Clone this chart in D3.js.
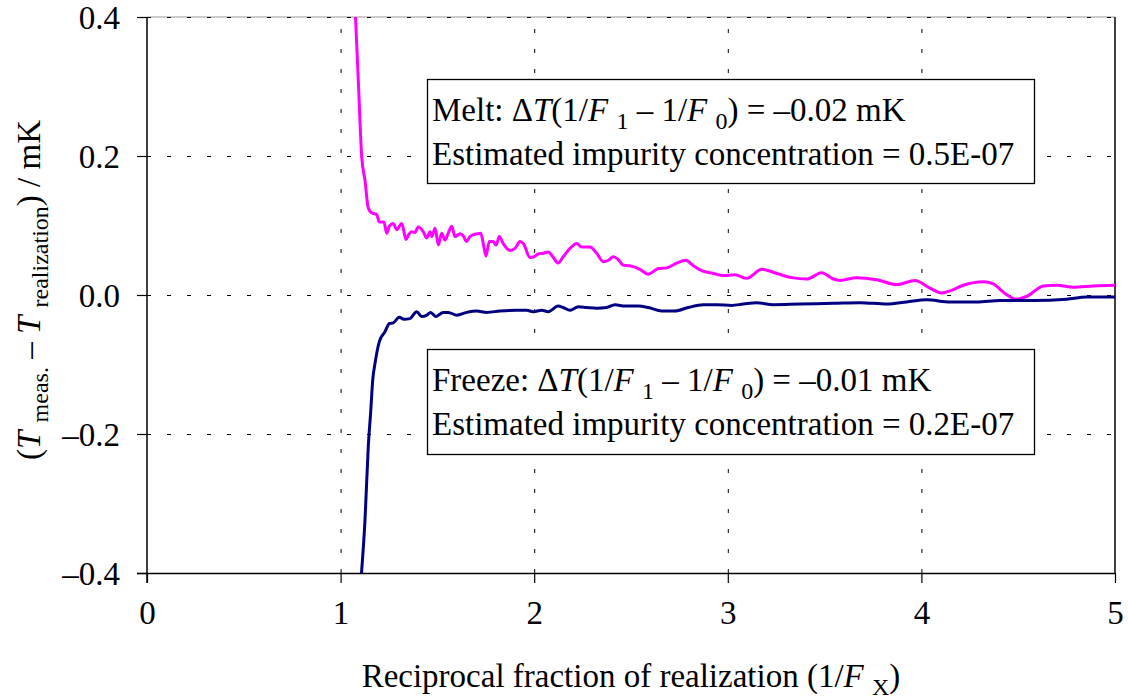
<!DOCTYPE html>
<html>
<head>
<meta charset="utf-8">
<script src="https://cdn.jsdelivr.net/npm/d3@7"></script>
<style>
  html, body { margin: 0; padding: 0; background: #fff; }
  svg { display: block; font-family: "Liberation Serif", "Times New Roman", serif; }
</style>
</head>
<body>
<svg id="chart" width="1128" height="699"></svg>
<script>
// ---- data ----
const xTicks = [0, 1, 2, 3, 4, 5];
const yTicks = [-0.4, -0.2, 0.0, 0.2, 0.4];
const yTickLabels = ["\u20130.4", "\u20130.2", "0.0", "0.2", "0.4"];

const meltX = [1.077, 1.092, 1.109, 1.126, 1.143, 1.161, 1.186, 1.200, 1.224, 1.238, 1.252, 1.272, 1.290, 1.316, 1.338, 1.350, 1.367, 1.384, 1.401, 1.427, 1.445, 1.462, 1.471, 1.488, 1.505, 1.522, 1.539, 1.556, 1.574, 1.591, 1.617, 1.634, 1.651, 1.668, 1.703, 1.724, 1.737, 1.751, 1.768, 1.789, 1.803, 1.820, 1.840, 1.875, 1.901, 1.927, 1.944, 1.978, 1.999, 2.021, 2.047, 2.073, 2.096, 2.124, 2.150, 2.185, 2.220, 2.245, 2.271, 2.288, 2.323, 2.357, 2.383, 2.409, 2.434, 2.460, 2.495, 2.546, 2.589, 2.641, 2.684, 2.736, 2.784, 2.822, 2.865, 2.925, 2.977, 3.037, 3.098, 3.175, 3.253, 3.330, 3.408, 3.485, 3.545, 3.580, 3.666, 3.769, 3.872, 3.967, 4.044, 4.105, 4.148, 4.216, 4.320, 4.371, 4.432, 4.492, 4.544, 4.630, 4.699, 4.785, 4.888, 5.000];
const meltY = [0.400, 0.305, 0.199, 0.165, 0.125, 0.118, 0.116, 0.105, 0.105, 0.089, 0.099, 0.103, 0.094, 0.103, 0.080, 0.086, 0.091, 0.090, 0.098, 0.091, 0.082, 0.091, 0.084, 0.096, 0.072, 0.089, 0.079, 0.089, 0.099, 0.084, 0.088, 0.085, 0.077, 0.084, 0.088, 0.089, 0.074, 0.056, 0.077, 0.077, 0.072, 0.084, 0.074, 0.064, 0.067, 0.077, 0.074, 0.054, 0.055, 0.059, 0.060, 0.062, 0.055, 0.046, 0.055, 0.067, 0.074, 0.069, 0.069, 0.069, 0.060, 0.048, 0.050, 0.055, 0.051, 0.043, 0.042, 0.037, 0.030, 0.038, 0.039, 0.046, 0.050, 0.042, 0.035, 0.031, 0.028, 0.029, 0.024, 0.037, 0.031, 0.025, 0.023, 0.032, 0.023, 0.021, 0.025, 0.022, 0.015, 0.021, 0.010, 0.003, 0.006, 0.014, 0.019, 0.016, 0.002, -0.006, -0.002, 0.013, 0.014, 0.011, 0.013, 0.014];

const freezeX = [1.108, 1.126, 1.143, 1.155, 1.166, 1.178, 1.200, 1.229, 1.252, 1.272, 1.303, 1.327, 1.358, 1.393, 1.419, 1.445, 1.465, 1.493, 1.530, 1.556, 1.600, 1.651, 1.703, 1.755, 1.823, 1.910, 1.961, 1.995, 2.039, 2.073, 2.124, 2.150, 2.185, 2.228, 2.271, 2.323, 2.374, 2.417, 2.469, 2.538, 2.589, 2.659, 2.727, 2.796, 2.873, 2.943, 3.020, 3.080, 3.149, 3.235, 3.373, 3.545, 3.683, 3.821, 3.924, 4.027, 4.148, 4.286, 4.406, 4.578, 4.750, 4.854, 5.000];
const freezeY = [-0.400, -0.324, -0.218, -0.170, -0.122, -0.098, -0.067, -0.053, -0.041, -0.040, -0.032, -0.035, -0.034, -0.024, -0.031, -0.029, -0.025, -0.031, -0.025, -0.025, -0.029, -0.025, -0.023, -0.025, -0.023, -0.022, -0.022, -0.024, -0.022, -0.024, -0.016, -0.018, -0.022, -0.017, -0.018, -0.019, -0.018, -0.014, -0.016, -0.016, -0.018, -0.023, -0.023, -0.018, -0.014, -0.014, -0.015, -0.013, -0.011, -0.014, -0.013, -0.012, -0.011, -0.013, -0.010, -0.007, -0.010, -0.010, -0.008, -0.008, -0.006, -0.003, -0.003];

const meltColor = "#ff00ff";
const freezeColor = "#000080";

// ---- layout ----
const L = 147, R = 1115, T = 17, B = 573;
const FS = 33, SUB = 24;

const svg = d3.select("#chart");
const x = d3.scaleLinear().domain([0, 5]).range([L, R]);
const y = d3.scaleLinear().domain([-0.4, 0.4]).range([B, T]);

// plot-area top border (gray)
svg.append("line").attr("x1", L).attr("x2", R).attr("y1", T).attr("y2", T)
  .attr("stroke", "#9a9a9a").attr("stroke-width", 1.2);

// gridlines
const grid = svg.append("g").attr("stroke", "#000").attr("stroke-width", 1).attr("stroke-dasharray", "4,16");
grid.selectAll(".gx").data(xTicks.filter(d => d > 0 && d < 5)).join("line")
  .attr("x1", d => x(d) + 0.5).attr("x2", d => x(d) + 0.5).attr("y1", B).attr("y2", T);
grid.selectAll(".gy").data(yTicks.filter(d => d > -0.4)).join("line")
  .attr("x1", L).attr("x2", R).attr("y1", d => Math.round(y(d)) + 0.5).attr("y2", d => Math.round(y(d)) + 0.5);

// right border
svg.append("line").attr("x1", R).attr("x2", R).attr("y1", T).attr("y2", B)
  .attr("stroke", "#000").attr("stroke-width", 1.5);

// axes
const xAxis = d3.axisBottom(x).tickValues(xTicks).tickSize(10).tickPadding(18).tickFormat(d3.format("d"));
const gx = svg.append("g").attr("transform", `translate(0,${B})`).call(xAxis);
const yAxis = d3.axisLeft(y).tickValues(yTicks).tickSize(10).tickPadding(17)
  .tickFormat((d, i) => yTickLabels[i]);
const gy = svg.append("g").attr("transform", `translate(${L},0)`).call(yAxis);
[gx, gy].forEach(g => {
  g.select(".domain").attr("stroke", "#000").attr("stroke-width", 1.5);
  g.selectAll(".tick line").attr("stroke", "#000").attr("stroke-width", 1.2);
  g.selectAll(".tick text").attr("fill", "#000")
    .style("font-family", '"Liberation Serif", serif').style("font-size", FS + "px");
});
gx.select(".domain").attr("d", `M${L - 10},0.5H${R}`);
gy.select(".domain").attr("d", `M0,${T}V${B + 10}`);
gy.selectAll(".tick text").attr("dy", "0.34em");

// clip
svg.append("clipPath").attr("id", "clip").append("rect")
  .attr("x", L).attr("y", T).attr("width", R - L).attr("height", B - T);

const line = d3.line().x(d => x(d[0])).y(d => y(d[1])).curve(d3.curveMonotoneX);
const plot = svg.append("g").attr("clip-path", "url(#clip)");
plot.append("path").datum(meltX.map((v, i) => [v, meltY[i]]))
  .attr("d", line).attr("fill", "none").attr("stroke", meltColor).attr("stroke-width", 3).attr("stroke-linejoin", "round");
plot.append("path").datum(freezeX.map((v, i) => [v, freezeY[i]]))
  .attr("d", line).attr("fill", "none").attr("stroke", freezeColor).attr("stroke-width", 3).attr("stroke-linejoin", "round");

// helper for rich text
function rich(textSel, parts) {
  let shift = 0;
  parts.forEach(p => {
    const ts = textSel.append("tspan").text(p.t);
    if (p.i) ts.attr("font-style", "italic");
    const target = p.s ? 8 : 0;
    if (target !== shift) { ts.attr("dy", target - shift); shift = target; }
    if (p.s) ts.attr("font-size", SUB);
  });
}

// annotation boxes
function annBox(x0, y0, w, h, line1Prefix, value, conc) {
  svg.append("rect").attr("x", x0 + 0.5).attr("y", y0 + 0.5).attr("width", w).attr("height", h)
    .attr("fill", "#fff").attr("stroke", "#000").attr("stroke-width", 1.3);
  const t1 = svg.append("text").attr("x", x0 + 5).attr("y", y0 + 42).attr("font-size", FS);
  rich(t1, [
    { t: line1Prefix + "\u0394" }, { t: "T", i: true }, { t: "(1/" }, { t: "F", i: true },
    { t: " " }, { t: "1", s: true }, { t: " \u2013 1/" }, { t: "F", i: true }, { t: " " },
    { t: "0", s: true }, { t: ") = " + value + " mK" }
  ]);
  svg.append("text").attr("x", x0 + 5).attr("y", y0 + 86).attr("font-size", FS)
    .text("Estimated impurity concentration = " + conc);
}
annBox(427, 79, 607, 104, "Melt: ", "\u20130.02", "0.5E-07");
annBox(427, 349, 607, 105, "Freeze: ", "\u20130.01", "0.2E-07");

// axis titles
const xt = svg.append("text").attr("x", (L + R) / 2).attr("y", 687).attr("text-anchor", "middle").attr("font-size", FS);
rich(xt, [{ t: "Reciprocal fraction of realization (1/" }, { t: "F", i: true }, { t: " " }, { t: "X", s: true }, { t: ")" }]);

const yt = svg.append("text").attr("transform", "translate(40,290) rotate(-90)").attr("text-anchor", "middle").attr("font-size", FS);
rich(yt, [{ t: "(" }, { t: "T", i: true }, { t: " " }, { t: "meas.", s: true }, { t: " \u2013 " }, { t: "T", i: true }, { t: " " },
  { t: "realization", s: true }, { t: ") / mK" }]);
</script>
</body>
</html>
